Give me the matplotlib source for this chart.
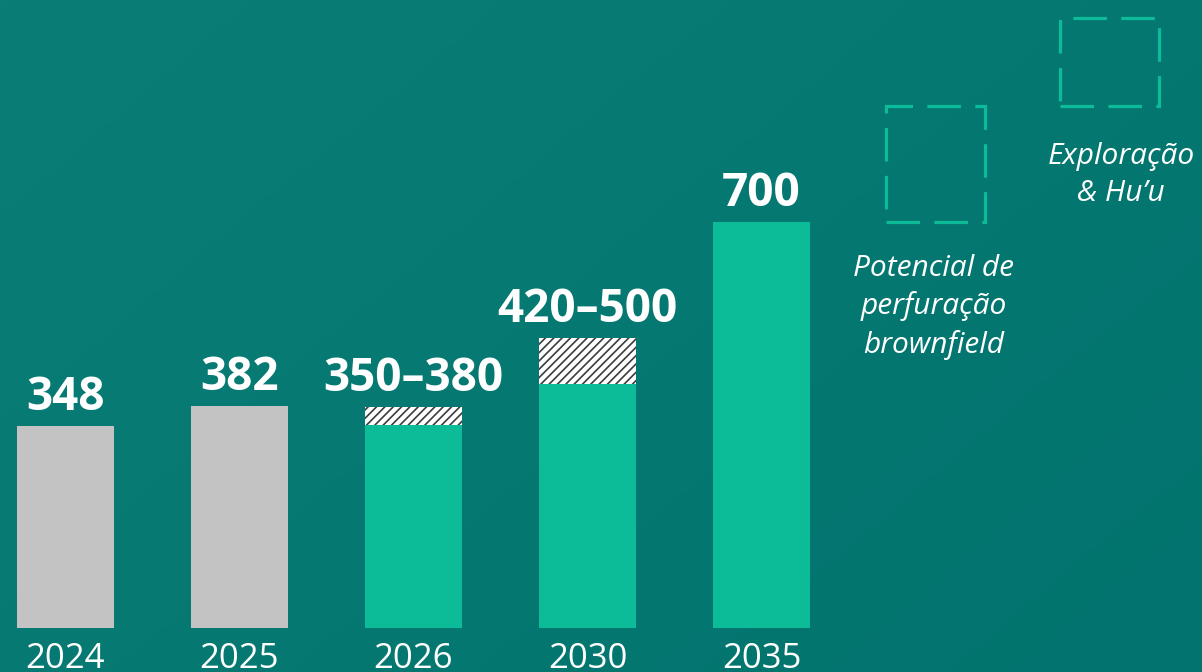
import matplotlib
matplotlib.use('Agg')
import matplotlib.pyplot as plt
import numpy as np
from matplotlib.patches import Rectangle

# dados
anos = ['2024', '2025', '2026', '2030', '2035']
producao_base = [348, 382, 350, 420, 700]
faixa_extra = [0, 0, 30, 80, 0]          # parte tracejada (faixa superior)
rotulos = ['348', '382', '350–380', '420–500', '700']
historico = [True, True, False, False, False]

potencial_brownfield = 200   # de 700 até 900
exploracao_huu = 150         # de 900 até 1050
textos_potencial = ['Potencial de\nperfuração\nbrownfield', 'Exploração\n& Hu’u']

verde = '#0cbc98'
cinza = '#c3c3c3'

plt.rcParams['font.family'] = ['Open Sans', 'DejaVu Sans']
plt.rcParams['hatch.linewidth'] = 1.2

fig = plt.figure(figsize=(12.02, 6.72), dpi=100)
ax = fig.add_axes([0, 0, 1, 1])

# fundo em degradê
gx, gy = np.meshgrid(np.linspace(0, 1, 200), np.linspace(0, 1, 120))
c1 = np.array([0x0a, 0x7e, 0x76]) / 255
c2 = np.array([0x02, 0x73, 0x6e]) / 255
t = np.clip(0.6 * gx + 0.4 * gy, 0, 1)[..., None]
img = c1 * (1 - t) + c2 * t
ax.imshow(img, extent=[0, 1, 0, 1], transform=ax.transAxes, aspect='auto', zorder=0)

x = np.arange(len(anos))
largura = 0.557
cores = [cinza if h else verde for h in historico]
ax.bar(x, producao_base, width=largura, color=cores, linewidth=0, zorder=2)
ax.bar(x, faixa_extra, bottom=producao_base, width=largura, color='white',
       edgecolor='#3c3c3c', hatch='////', linewidth=0, zorder=2)

topo = [b + e for b, e in zip(producao_base, faixa_extra)]
for xi, tp, lab in zip(x, topo, rotulos):
    ax.annotate(lab, (xi, tp), xytext=(0, 11.5), textcoords='offset points',
                ha='center', va='baseline', fontsize=33, fontweight='bold', color='white')

# anos (cortados na borda inferior, como no original)
for xi, ano in zip(x, anos):
    ax.text(xi, -69, ano, ha='center', va='baseline', fontsize=25, color='white')

# caixas tracejadas de potencial
inicio = producao_base[-1]
for i, v in enumerate([potencial_brownfield, exploracao_huu]):
    xc = len(anos) + i
    ax.add_patch(Rectangle((xc - 0.285, inicio), 0.57, v, fill=False, edgecolor=verde,
                           linewidth=2.3, linestyle=(0, (10.5, 4.5)), zorder=2))
    inicio += v

ax.text(len(anos) - 0.01, 645, textos_potencial[0], ha='center', va='top', fontsize=21.5,
        style='italic', color='white', linespacing=1.37)
ax.text(len(anos) + 1.066, 838, textos_potencial[1], ha='center', va='top', fontsize=21.5,
        style='italic', color='white', linespacing=1.37)

ax.set_xlim(-0.3764, 6.532)
ax.set_ylim(-75.8, 1081.8)
ax.axis('off')

plt.savefig('out.png', dpi=100)
